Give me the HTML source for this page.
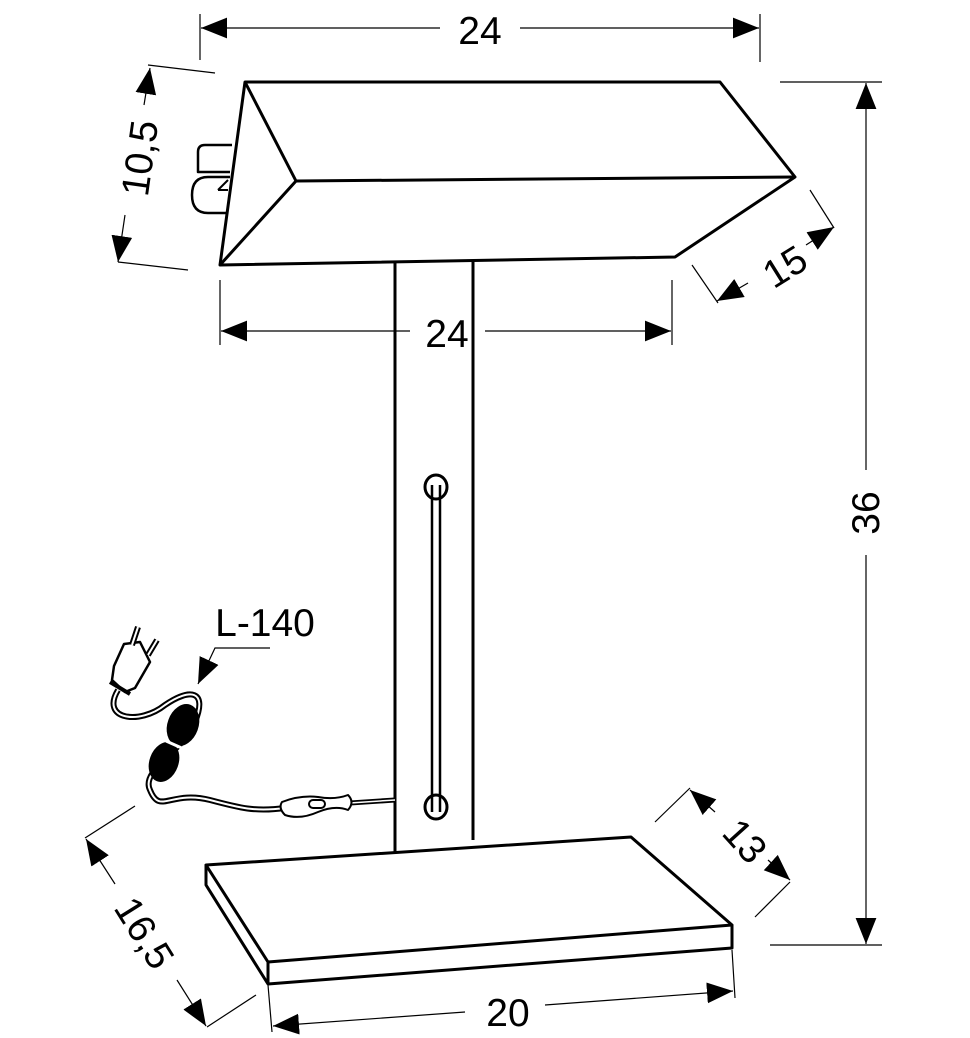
<!DOCTYPE html>
<html><head><style>html,body{margin:0;padding:0;background:#fff}svg{display:block}
text{font-family:"Liberation Sans",sans-serif;font-size:39px;fill:#000}</style></head>
<body>
<svg width="970" height="1038" viewBox="0 0 970 1038" xmlns="http://www.w3.org/2000/svg">
<defs>
<marker id="a" viewBox="0 0 10 10" refX="10" refY="5" markerWidth="26" markerHeight="26" markerUnits="userSpaceOnUse" orient="auto-start-reverse"><path d="M0,1 L10,5 L0,9 Z" fill="#000"/></marker>
</defs>
<g stroke="#000" fill="none" stroke-width="1.2">
<line x1="200" y1="14" x2="200" y2="60"/><line x1="760" y1="14" x2="760" y2="62"/>
<line x1="201" y1="28" x2="440" y2="28" marker-start="url(#a)"/><line x1="520" y1="28" x2="759" y2="28" marker-end="url(#a)"/>
<line x1="220" y1="280" x2="220" y2="345"/><line x1="672" y1="280" x2="672" y2="345"/>
<line x1="221" y1="331" x2="410" y2="331" marker-start="url(#a)"/><line x1="485" y1="331" x2="671" y2="331" marker-end="url(#a)"/>
<line x1="780" y1="82" x2="882" y2="82"/><line x1="770" y1="945" x2="882" y2="945"/>
<line x1="866" y1="83" x2="866" y2="470" marker-start="url(#a)"/><line x1="866" y1="555" x2="866" y2="944" marker-end="url(#a)"/>
<line x1="148" y1="65" x2="215" y2="73"/><line x1="118" y1="262" x2="188" y2="270"/>
<line x1="150" y1="68" x2="144" y2="105" marker-start="url(#a)"/><line x1="125" y1="215" x2="118" y2="262" marker-end="url(#a)"/>
<line x1="692" y1="265" x2="718" y2="303"/><line x1="810" y1="190" x2="834" y2="228"/>
<line x1="717" y1="301" x2="748" y2="283" marker-start="url(#a)"/><line x1="806" y1="245" x2="834" y2="227" marker-end="url(#a)"/>
<line x1="655" y1="822" x2="690" y2="788"/><line x1="755" y1="917" x2="790" y2="882"/>
<line x1="690" y1="790" x2="715" y2="812" marker-start="url(#a)"/><line x1="768" y1="860" x2="790" y2="880" marker-end="url(#a)"/>
<line x1="85" y1="838" x2="135" y2="806"/><line x1="207" y1="1027" x2="256" y2="995"/>
<line x1="86" y1="839" x2="115" y2="884" marker-start="url(#a)"/><line x1="177" y1="980" x2="206" y2="1026" marker-end="url(#a)"/>
<line x1="268" y1="985" x2="272" y2="1032"/><line x1="732" y1="950" x2="735" y2="998"/>
<line x1="273" y1="1026" x2="465" y2="1012" marker-start="url(#a)"/><line x1="545" y1="1005" x2="733" y2="991" marker-end="url(#a)"/>
<polyline points="270,648 215,648 198,684" marker-end="url(#a)"/>
</g>
<g stroke="#000" fill="none" stroke-width="3" stroke-linejoin="round">
<polygon points="245,82 720,82 795,177 675,257 220,265"/>
<polyline points="245,82 296,181 220,265"/>
<line x1="296" y1="181" x2="795" y2="177"/>
<path d="M232,145 L205,145 Q198,145 198,152 L198,172 L230,172" stroke-width="2.5"/>
<path d="M230,177 L208,177 Q192,177 192,195 Q192,213 208,213 L226,213" stroke-width="2.5"/>
<path d="M218,190 L228,180 M218,190 L228,190" stroke-width="2"/>
<line x1="395" y1="262" x2="395" y2="852"/><line x1="473" y1="260" x2="473" y2="840"/>
<ellipse cx="436" cy="487" rx="11" ry="12"/><ellipse cx="436" cy="807" rx="11" ry="12"/>
<line x1="432" y1="485" x2="432" y2="812" stroke-width="2.5"/><line x1="440" y1="485" x2="440" y2="812" stroke-width="2.5"/>
<polygon points="206,865 631,837 732,925 268,962" fill="#fff"/>
<polyline points="206,865 206,885 268,984 732,948 732,925"/>
<line x1="268" y1="962" x2="268" y2="984"/>
<path d="M395,800 L350,803" stroke-width="5"/><path d="M395,800 L350,803" stroke="#fff" stroke-width="1.5"/>
<path d="M118,690 C100,720 140,725 165,705 C190,688 208,690 195,722 C185,750 140,770 150,790 C160,815 170,790 210,800 C240,808 255,812 285,808" stroke-width="6"/>
<path d="M118,690 C100,720 140,725 165,705 C190,688 208,690 195,722 C185,750 140,770 150,790 C160,815 170,790 210,800 C240,808 255,812 285,808" stroke="#fff" stroke-width="2"/>
<path d="M282,802 Q300,795 318,797 Q335,800 348,795 Q355,802 348,810 Q335,805 318,812 Q300,820 285,815 Q278,808 282,802 Z" fill="#fff" stroke-width="2"/>
<rect x="309" y="800" width="16" height="8" rx="4" fill="#fff" stroke-width="2"/>
<ellipse cx="183" cy="725" rx="15" ry="21" transform="rotate(20 183 725)" fill="#000" stroke-width="1"/>
<ellipse cx="164" cy="762" rx="14" ry="20" transform="rotate(20 164 762)" fill="#000" stroke-width="1"/>
<line x1="166" y1="741" x2="184" y2="749" stroke="#fff" stroke-width="3"/>
<path d="M112,680 L125,692 L135,688 L150,662 L140,642 L124,644 L114,666 Z" fill="#fff" stroke-width="2.5"/>
<line x1="132" y1="645" x2="138" y2="627" stroke-width="6"/><line x1="132" y1="645" x2="138" y2="627" stroke="#fff" stroke-width="2"/>
<line x1="148" y1="655" x2="157" y2="640" stroke-width="6"/><line x1="148" y1="655" x2="157" y2="640" stroke="#fff" stroke-width="2"/>
<line x1="110" y1="682" x2="130" y2="694" stroke-width="4"/>
</g>
<text x="480" y="44" text-anchor="middle">24</text>
<text x="447" y="347" text-anchor="middle">24</text>
<text x="265" y="636" text-anchor="middle">L-140</text>
<text x="508" y="1026" text-anchor="middle">20</text>
<text transform="translate(879,513) rotate(-90)" text-anchor="middle">36</text>
<text transform="translate(153,160) rotate(-82)" text-anchor="middle">10,5</text>
<text transform="translate(792,278) rotate(-32)" text-anchor="middle">15</text>
<text transform="translate(735,850) rotate(48)" text-anchor="middle">13</text>
<text transform="translate(133,940) rotate(58)" text-anchor="middle">16,5</text>
</svg>
</body></html>
